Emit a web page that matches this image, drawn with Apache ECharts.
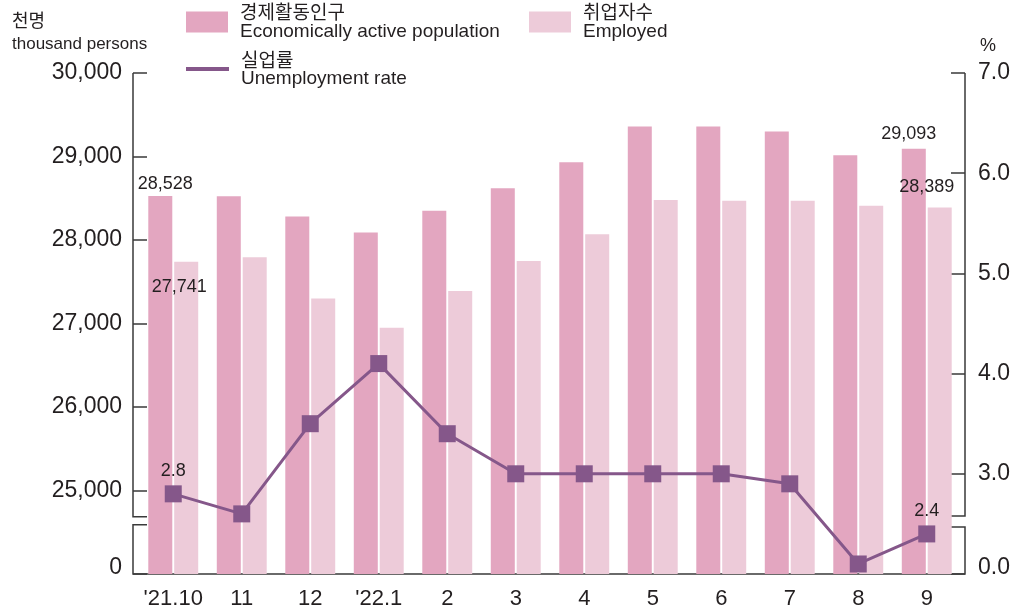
<!DOCTYPE html>
<html>
<head>
<meta charset="utf-8">
<script src="https://cdn.jsdelivr.net/npm/echarts@6/dist/echarts.min.js"></script>
<style>
html,body{margin:0;padding:0;background:#fff;}
#chart{width:1018px;height:614px;}
</style>
</head>
<body>
<div id="chart"></div>
<script>
// data
var categories = ["'21.10", "11", "12", "'22.1", "2", "3", "4", "5", "6", "7", "8", "9"];
var activePop = [28528, 28523, 28280, 28090, 28350, 28620, 28930, 29360, 29360, 29300, 29015, 29093];
var employed = [27741, 27793, 27300, 26950, 27390, 27750, 28070, 28480, 28470, 28470, 28410, 28389];
var unempRate = [2.8, 2.6, 3.5, 4.1, 3.4, 3.0, 3.0, 3.0, 3.0, 2.9, 2.1, 2.4];
var leftTicks = ['0', '25,000', '26,000', '27,000', '28,000', '29,000', '30,000'];
var rightTicks = ['0.0', '3.0', '4.0', '5.0', '6.0', '7.0'];

// both axes are broken: left starts at 24,000 above the break, right at 2.0
var LEFT_BASE = 24000, RIGHT_BASE = 2;

var textColor = '#231f20';
var axisColor = '#3a3a3a';
var darkPink = '#e3a6c0', lightPink = '#edcbd9', purple = '#85578a';
var latin = "'Liberation Sans', Arial, sans-serif";
var korean = "'Noto Sans CJK KR', sans-serif";

function fmt(n) {
	return n.toString().replace(/\B(?=(\d{3})+(?!\d))/g, ',');
}

var last = categories.length - 1;

var barData1 = activePop.map(function(v, i) {
	var item = {value: v / 1000 - LEFT_BASE / 1000};
	if (i == 0) item.label = {show: true, position: 'top', distance: 3, offset: [5, 0]};
	if (i == last) item.label = {show: true, position: 'top', distance: 6, offset: [-5, 0]};
	return item;
});
var barData2 = employed.map(function(v, i) {
	var item = {value: v / 1000 - LEFT_BASE / 1000};
	if (i == 0) item.label = {show: true, position: 'insideTop', offset: [-7, 11]};
	if (i == last) item.label = {show: true, position: 'top', distance: 11, offset: [-13, 0]};
	return item;
});
var lineData = unempRate.map(function(v, i) {
	var item = {value: +(v - RIGHT_BASE).toFixed(2)};
	if (i == 0 || i == last) item.label = {show: true, position: 'top', distance: 5};
	return item;
});

var dataLabel = {show: false, color: textColor, fontFamily: latin, fontSize: 18};

function legendText(lh) {
	return {
		lineHeight: lh,
		rich: {
			k: {fontFamily: korean, fontSize: 19, lineHeight: lh, height: lh, color: textColor, padding: [0, 0, 0, 7]},
			e: {fontFamily: latin, fontSize: 19, lineHeight: lh, height: lh, color: textColor, padding: [0, 0, 0, 7]}
		}
	};
}
var legendNames = {
	'경제활동인구': 'Economically active population',
	'취업자수': 'Employed',
	'실업률': 'Unemployment rate'
};
function legendFmt(name) {
	return '{k|' + name + '}\n{e|' + legendNames[name] + '}';
}

var chart = echarts.init(document.getElementById('chart'));
var gridLeft = 139, gridRight = 57, gridTop = 73, gridBottom = 40;

var option = {
	animation: false,
	backgroundColor: '#fff',
	grid: {left: gridLeft, right: gridRight, top: gridTop, bottom: gridBottom},
	legend: [
		{data: [{name: '경제활동인구', icon: 'rect'}], left: 186, top: 2, padding: 0,
			itemWidth: 42, itemHeight: 21, formatter: legendFmt, textStyle: legendText(20)},
		{data: [{name: '취업자수', icon: 'rect'}], left: 529, top: 2, padding: 0,
			itemWidth: 42, itemHeight: 21, formatter: legendFmt, textStyle: legendText(20)},
		{data: [{name: '실업률', icon: 'rect'}], left: 186, top: 50, padding: 0,
			itemWidth: 43, itemHeight: 4, formatter: legendFmt, textStyle: legendText(19)}
	],
	xAxis: {
		type: 'category',
		data: categories,
		axisLine: {show: false},
		axisTick: {show: false},
		axisLabel: {color: textColor, fontFamily: latin, fontSize: 22, margin: 14, interval: 0}
	},
	yAxis: [
		{
			type: 'value', min: 0, max: 6, interval: 1, offset: 6,
			axisLine: {show: false},
			axisTick: {show: true, inside: true, length: 14, lineStyle: {color: axisColor, width: 1.5}},
			splitLine: {show: false},
			axisLabel: {
				color: textColor, fontFamily: latin, fontSize: 23, margin: 11,
				formatter: function(v) {
					var t = leftTicks[Math.round(v)];
					return v == 0 ? '{z|' + t + '}' : t;
				},
				rich: {z: {fontFamily: latin, fontSize: 23, color: textColor, padding: [0, 0, 12, 0]}}
			}
		},
		{
			type: 'value', min: 0, max: 5, interval: 1, offset: 4, position: 'right',
			axisLine: {show: false},
			axisTick: {show: true, inside: true, length: 14, lineStyle: {color: axisColor, width: 1.5}},
			splitLine: {show: false},
			axisLabel: {
				color: textColor, fontFamily: latin, fontSize: 23, margin: 13,
				formatter: function(v) {
					var t = rightTicks[Math.round(v)];
					return v == 0 ? '{z|' + t + '}' : t;
				},
				rich: {z: {fontFamily: latin, fontSize: 23, color: textColor, padding: [0, 0, 12, 0]}}
			}
		}
	],
	series: [
		{
			name: '경제활동인구', type: 'bar', yAxisIndex: 0,
			barWidth: 24, barGap: '8%',
			itemStyle: {color: darkPink},
			label: Object.assign({}, dataLabel, {formatter: function(p) { return fmt(activePop[p.dataIndex]); }}),
			data: barData1, z: 2
		},
		{
			name: '취업자수', type: 'bar', yAxisIndex: 0,
			barWidth: 24, barGap: '8%',
			itemStyle: {color: lightPink},
			label: Object.assign({}, dataLabel, {formatter: function(p) { return fmt(employed[p.dataIndex]); }}),
			data: barData2, z: 2
		},
		{
			name: '실업률', type: 'line', yAxisIndex: 1,
			symbol: 'rect', symbolSize: 17,
			lineStyle: {color: purple, width: 3},
			itemStyle: {color: purple},
			label: Object.assign({}, dataLabel, {formatter: function(p) { return unempRate[p.dataIndex].toFixed(1); }}),
			data: lineData, z: 5
		}
	]
};
chart.setOption(option);

// axis lines with the break brackets, placed from the axes' own scales
function px(axis, v) {
	return chart.convertToPixel({yAxisIndex: axis}, v);
}
var xl = gridLeft - 6, xr = 1018 - gridRight + 4, stub = 14;
var yTop = px(0, 6), yBot = px(0, 0);
var bl1 = px(0, 0.685), bl2 = px(0, 0.59);
var br1 = px(1, 0.58), br2 = px(1, 0.47);
var ls = {stroke: axisColor, lineWidth: 1.5, fill: null};

chart.setOption({
	graphic: [
		{type: 'polyline', z: 1, shape: {points: [[xl + stub, bl1], [xl, bl1], [xl, yTop]]}, style: ls},
		{type: 'polyline', z: 1, shape: {points: [[xl + stub, bl2], [xl, bl2], [xl, yBot], [xr, yBot], [xr, br2], [xr - stub, br2]]}, style: ls},
		{type: 'polyline', z: 1, shape: {points: [[xr - stub, br1], [xr, br1], [xr, yTop]]}, style: ls},
		{type: 'text', left: 12, top: 11, style: {text: '천명', font: '18px ' + korean, fill: textColor}},
		{type: 'text', left: 12, top: 36, style: {text: 'thousand persons', font: '17px ' + latin, fill: textColor}},
		{type: 'text', left: 980, top: 37, style: {text: '%', font: '18px ' + latin, fill: textColor}}
	]
});

window.addEventListener('resize', function() {
	chart.resize();
});
</script>
</body>
</html>
